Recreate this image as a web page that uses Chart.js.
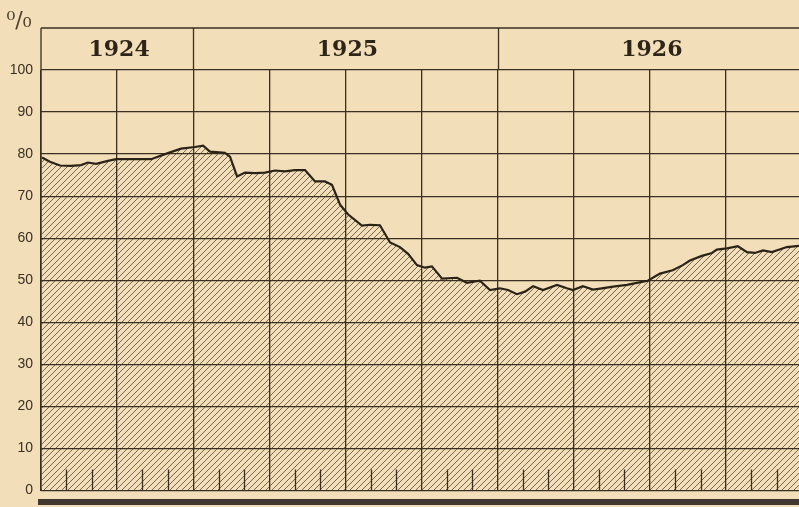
<!DOCTYPE html>
<html>
<head>
<meta charset="utf-8">
<script src="https://cdn.jsdelivr.net/npm/chart.js@4/dist/chart.umd.min.js"></script>
<style>
  html, body { margin: 0; padding: 0; background: #f2deb8; }
  canvas { display: block; }
</style>
</head>
<body>
<canvas id="c" width="799" height="507"></canvas>
<script>
// Months counted from 1 July 1924
const monthPos = [0.04, 0.35, 0.75, 1.18, 1.58, 1.85, 2.17, 2.64, 2.96, 3.71, 4.34, 4.89, 5.52, 6.07, 6.39, 6.66,
  7.25, 7.45, 7.73, 8.04, 8.44, 8.83, 9.22, 9.62, 10.01, 10.41, 10.80, 11.19, 11.47, 11.79, 12.10, 12.65,
  12.97, 13.36, 13.76, 14.15, 14.47, 14.82, 15.14, 15.41, 15.81, 16.40, 16.79, 17.30, 17.70, 18.09, 18.41,
  18.76, 19.08, 19.40, 19.79, 20.34, 20.73, 20.97, 21.36, 21.76, 22.11, 22.55, 23.10, 23.49, 23.92, 24.40,
  24.90, 25.30, 25.58, 26.05, 26.45, 26.64, 27.04, 27.47, 27.83, 28.14, 28.46, 28.81, 29.40, 29.88];
const shareValues = [79.2, 78.2, 77.3, 77.2, 77.4, 78.0, 77.7, 78.4, 78.8, 78.8, 78.8, 80.0, 81.3, 81.7, 82.0, 80.6,
  80.3, 79.4, 74.7, 75.6, 75.5, 75.6, 76.1, 75.9, 76.2, 76.2, 73.5, 73.5, 72.7, 68.0, 65.7, 63.0,
  63.2, 63.1, 59.0, 57.9, 56.3, 53.6, 53.0, 53.3, 50.4, 50.6, 49.4, 49.9, 47.7, 48.1, 47.7,
  46.7, 47.3, 48.6, 47.7, 48.9, 48.1, 47.7, 48.6, 47.8, 48.1, 48.5, 48.9, 49.4, 49.9, 51.6,
  52.4, 53.6, 54.7, 55.8, 56.5, 57.3, 57.6, 58.1, 56.7, 56.5, 57.1, 56.7, 57.9, 58.2];
const yearLabels = ['1924', '1925', '1926'];
const yearCenters = [3, 12, 24];
const yearBounds = [6, 18];
const quarterTicks = [0, 3, 6, 9, 12, 15, 18, 21, 24, 27];
const xMax = 29.88;
const unitLabel = '⁰/₀';

const ink = '#3a2f20';
const paper = '#f2deb8';

// hatch pattern
const pc = document.createElement('canvas');
pc.width = 6; pc.height = 6;
const g = pc.getContext('2d');
g.strokeStyle = 'rgba(70,56,36,0.8)';
g.lineWidth = 0.9;
g.beginPath();
g.moveTo(0, 6); g.lineTo(6, 0);
g.moveTo(-1, 1); g.lineTo(1, -1);
g.moveTo(5, 7); g.lineTo(7, 5);
g.stroke();
const ctx = document.getElementById('c').getContext('2d');
const hatch = ctx.createPattern(pc, 'repeat');

const decor = {
  id: 'decor',
  beforeDraw(chart) {
    const c = chart.ctx;
    c.save();
    c.fillStyle = paper;
    c.fillRect(0, 0, chart.width, chart.height);
    c.restore();
  },
  afterDatasetsDraw(chart) {
    const c = chart.ctx, x = chart.scales.x, a = chart.chartArea;
    const headTop = 28;
    c.save();
    c.strokeStyle = ink;
    c.lineWidth = 1.3;
    c.beginPath();
    c.moveTo(a.left, headTop); c.lineTo(a.right, headTop);
    c.moveTo(a.left, headTop); c.lineTo(a.left, a.bottom);
    yearBounds.forEach(v => {
      const px = Math.round(x.getPixelForValue(v)) + 0.5;
      c.moveTo(px, headTop); c.lineTo(px, a.top);
    });
    for (let m = 1; m < xMax; m++) {
      if (m % 3 === 0) continue;
      const px = Math.round(x.getPixelForValue(m)) + 0.5;
      c.moveTo(px, a.bottom - 21); c.lineTo(px, a.bottom);
    }
    c.stroke();
    c.fillStyle = '#2e2519';
    c.font = 'bold 22px "DejaVu Serif"';
    c.textAlign = 'center';
    c.textBaseline = 'middle';
    yearLabels.forEach((t, i) => {
      c.fillText(t, x.getPixelForValue(yearCenters[i]) + 2, 50);
    });
    c.font = '22px "DejaVu Serif"';
    c.fillStyle = '#4a3d2a';
    c.fillText(unitLabel, 19, 21);
    c.fillStyle = '#403830';
    c.fillRect(38, 499, chart.width - 38, 6);
    c.restore();
  }
};

new Chart(ctx, {
  type: 'line',
  data: {
    datasets: [{
      data: monthPos.map((m, i) => ({ x: m, y: shareValues[i] })),
      borderColor: '#2c2317',
      borderWidth: 2.2,
      backgroundColor: hatch,
      fill: 'origin',
      pointRadius: 0,
      tension: 0
    }]
  },
  options: {
    responsive: false,
    animation: false,
    devicePixelRatio: 1,
    layout: { padding: { top: 70, bottom: 10, left: 0, right: 0 } },
    plugins: { legend: { display: false }, tooltip: { enabled: false } },
    scales: {
      x: {
        type: 'linear', min: 0, max: xMax,
        afterBuildTicks: s => { s.ticks = quarterTicks.map(v => ({ value: v })); },
        afterFit: s => { s.height = 0; },
        ticks: { display: false },
        grid: { color: ink, lineWidth: 1.3, drawTicks: false },
        border: { display: false }
      },
      y: {
        min: 0, max: 100,
        afterFit: s => { s.width = 41; },
        ticks: { stepSize: 10, padding: 8, color: '#3b2f22', font: { family: 'Liberation Sans', size: 14 } },
        grid: { color: ink, lineWidth: 1.3, drawTicks: false },
        border: { display: false }
      }
    }
  },
  plugins: [decor]
});
</script>
</body>
</html>
